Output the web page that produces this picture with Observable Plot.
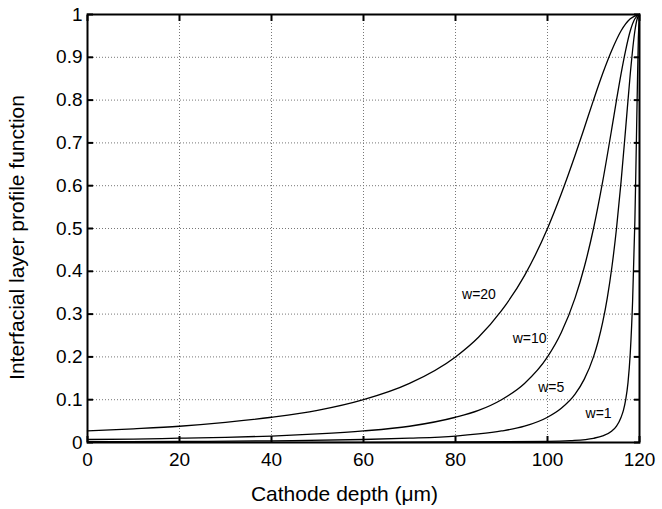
<!DOCTYPE html>
<html>
<head>
<meta charset="utf-8">
<script src="https://cdn.jsdelivr.net/npm/d3@7"></script>
<script src="https://cdn.jsdelivr.net/npm/@observablehq/plot@0.6"></script>
<style>
  html, body { margin: 0; padding: 0; background: #fff; }
  #chart svg { display: block; }
</style>
</head>
<body>
<div id="chart"></div>
<script>
// Cathode depth (µm) sample positions and profile values
const depth20 = [0,10,20,30,40,50,60,70,80,85,90,95,100,103,106,108,110,112,114,116,118,120];
const w20 = [0.027,0.032,0.038,0.047,0.059,0.075,0.100,0.138,0.200,0.246,0.308,0.390,0.500,0.581,0.671,0.735,0.800,0.862,0.917,0.962,0.990,1.000];

const depth10 = [0,10,20,30,40,50,60,70,80,85,90,95,100,103,106,108,110,112,114,115,116,117,118,119,120];
const w10 = [0.007,0.008,0.010,0.012,0.015,0.020,0.027,0.038,0.059,0.075,0.100,0.138,0.200,0.257,0.338,0.410,0.500,0.610,0.735,0.800,0.862,0.917,0.962,0.990,1.000];

const depth5 = [0,20,40,60,70,80,85,90,95,100,103,106,108,110,111,112,113,114,115,116,117,118,119,119.5,120];
const w5 = [0.002,0.0025,0.004,0.007,0.010,0.015,0.020,0.027,0.038,0.059,0.080,0.113,0.148,0.200,0.236,0.281,0.338,0.410,0.500,0.610,0.735,0.862,0.962,0.990,1.000];

const depth1 = [0,60,100,105,110,112,114,115,116,116.5,117,117.5,118,118.5,119,119.25,119.5,119.75,120];
const w1 = [0.0001,0.0003,0.0025,0.0044,0.0099,0.0154,0.027,0.038,0.059,0.075,0.100,0.140,0.210,0.330,0.520,0.660,0.810,0.945,1.000];

const seriesNames = ["w=20", "w=10", "w=5", "w=1"];
const seriesDepths = [depth20, depth10, depth5, depth1];
const seriesValues = [w20, w10, w5, w1];

// Curve label anchor positions (data units)
const labelDepth = [85.1, 96.1, 100.8, 111.1];
const labelValue = [0.346, 0.242, 0.128, 0.067];

const xTicks = [0, 20, 40, 60, 80, 100, 120];
const yTicks = [0, 0.1, 0.2, 0.3, 0.4, 0.5, 0.6, 0.7, 0.8, 0.9, 1];
const yTickLabels = ["0", "0.1", "0.2", "0.3", "0.4", "0.5", "0.6", "0.7", "0.8", "0.9", "1"];

const xTitle = "Cathode depth (\u03bcm)";
const yTitle = "Interfacial layer profile function";

const rows = seriesNames.flatMap((name, i) =>
  seriesDepths[i].map((d, j) => ({series: name, depth: d, value: seriesValues[i][j]})));
const labels = seriesNames.map((name, i) => ({name, depth: labelDepth[i], value: labelValue[i]}));

const font = "'Liberation Sans', Arial, Helvetica, sans-serif";

const chart = Plot.plot({
  width: 662,
  height: 509,
  marginLeft: 87,
  marginRight: 23,
  marginTop: 14,
  marginBottom: 67,
  style: {fontFamily: font, fontSize: "19px", color: "#000", background: "#fff"},
  x: {domain: [0, 120]},
  y: {domain: [0, 1]},
  marks: [
    Plot.gridX(xTicks, {stroke: "#777", strokeOpacity: 1, strokeDasharray: "1,2", strokeWidth: 1}),
    Plot.gridY(yTicks, {stroke: "#777", strokeOpacity: 1, strokeDasharray: "1,2", strokeWidth: 1}),
    Plot.line(rows, {x: "depth", y: "value", z: "series", stroke: "#000", strokeWidth: 1.3, curve: "monotone-x"}),
    Plot.text(labels, {x: "depth", y: "value", text: "name", fontSize: 14, fill: "#000"}),
    Plot.frame({stroke: "#000", strokeWidth: 2}),
    // inward ticks on all four sides
    Plot.axisX(xTicks, {anchor: "bottom", tickSize: -6, tickFormat: () => "", label: null, strokeWidth: 2}),
    Plot.axisX(xTicks, {anchor: "top", tickSize: -6, tickFormat: () => "", label: null, strokeWidth: 2}),
    Plot.axisY(yTicks, {anchor: "left", tickSize: -6, tickFormat: () => "", label: null, strokeWidth: 2}),
    Plot.axisY(yTicks, {anchor: "right", tickSize: -6, tickFormat: () => "", label: null, strokeWidth: 2}),
    // tick labels
    Plot.axisX(xTicks, {anchor: "bottom", tickSize: 0, tickPadding: 10, label: null, fontSize: 19}),
    Plot.axisY(yTicks, {anchor: "left", tickSize: 0, tickPadding: 5, label: null, fontSize: 19,
      tickFormat: (d) => yTickLabels[yTicks.indexOf(d)]}),
    // axis titles
    Plot.text([xTitle], {frameAnchor: "bottom", lineAnchor: "middle", textAnchor: "middle", dy: 52, dx: -19, fontSize: 21, text: (d) => d, fill: "#000"}),
    Plot.text([yTitle], {frameAnchor: "left", lineAnchor: "middle", textAnchor: "middle", dx: -70, dy: 9, rotate: -90, fontSize: 21, text: (d) => d, fill: "#000"})
  ]
});

document.getElementById("chart").appendChild(chart);
</script>
</body>
</html>
